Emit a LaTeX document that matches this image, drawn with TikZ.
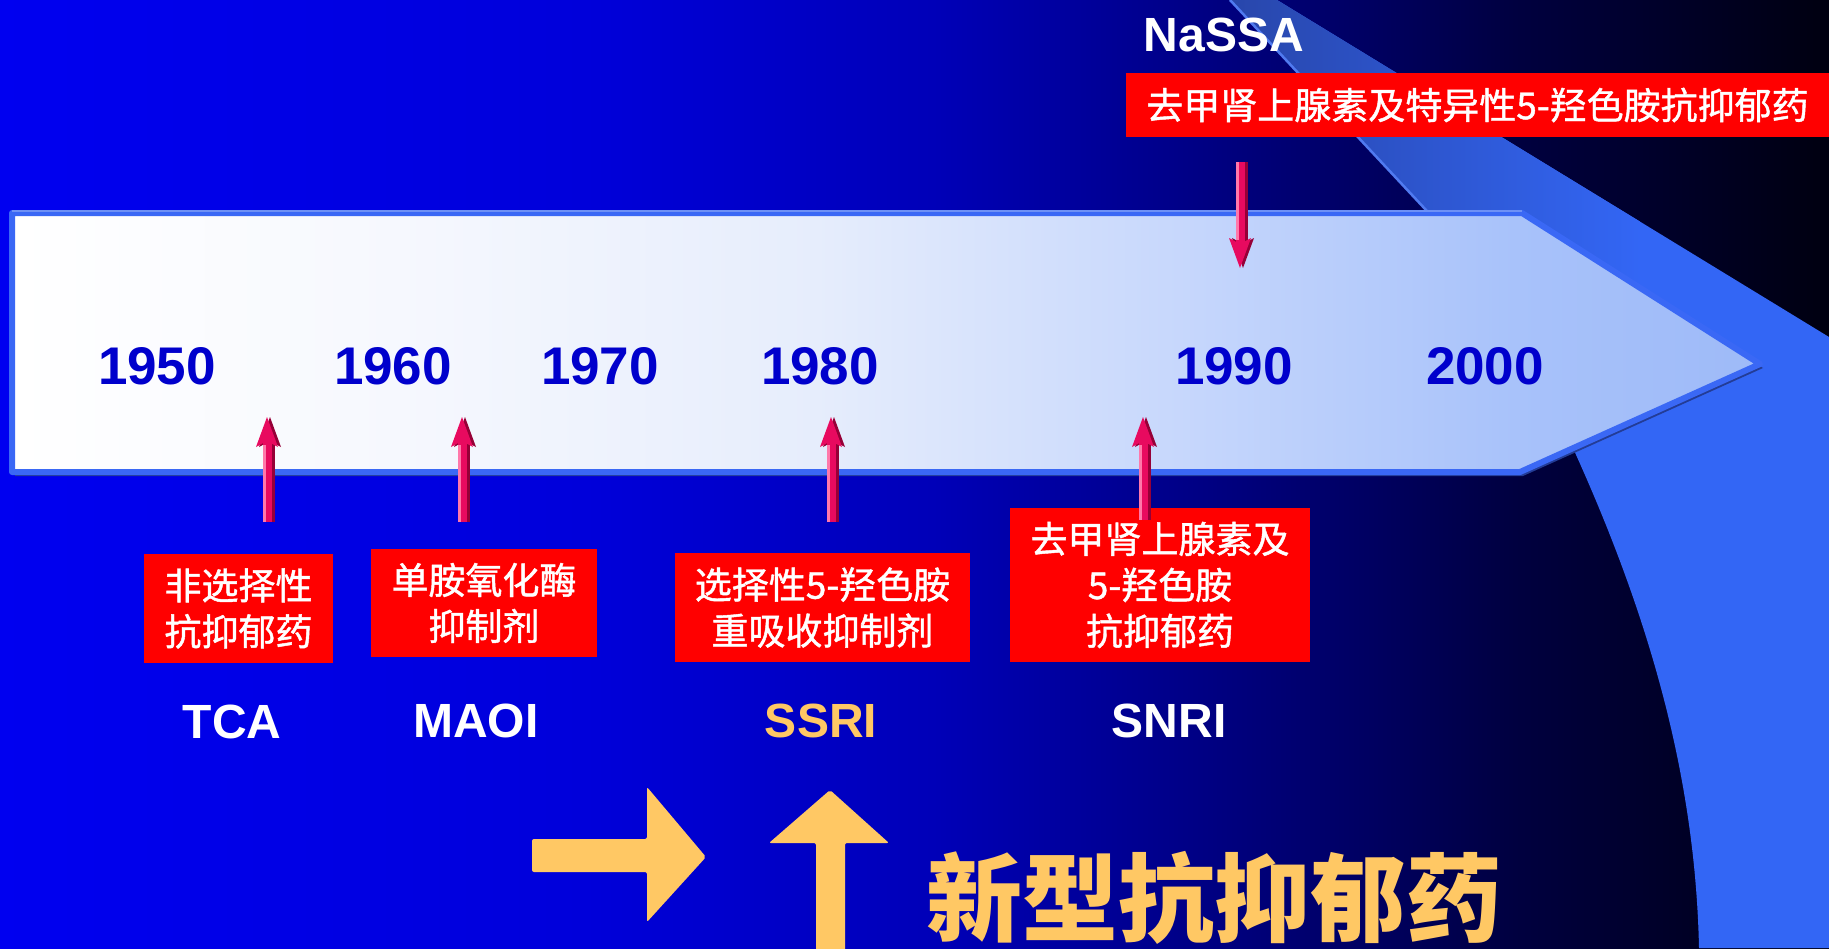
\documentclass[tikz,border=0pt]{standalone}
\usepackage{fontspec}
\setmainfont{Liberation Sans}
\newfontfamily\cjk{Noto Sans CJK SC}
\newfontfamily\cjkb[FakeBold=1.2]{Noto Sans CJK SC}
\usetikzlibrary{arrows.meta}
\definecolor{bgA}{RGB}{0,0,240}
\definecolor{bgB}{RGB}{0,0,218}
\definecolor{bgC}{RGB}{0,0,184}
\definecolor{bgD}{RGB}{0,0,138}
\definecolor{bgE}{RGB}{0,0,96}
\definecolor{bgF}{RGB}{0,0,64}
\definecolor{bgG}{RGB}{0,0,16}
\definecolor{tlA}{RGB}{255,255,255}
\definecolor{tlB}{RGB}{246,248,254}
\definecolor{tlC}{RGB}{230,237,252}
\definecolor{tlD}{RGB}{200,216,252}
\definecolor{tlE}{RGB}{168,194,250}
\definecolor{tlF}{RGB}{158,186,248}
\definecolor{swB}{RGB}{51,102,245}
\definecolor{swD}{RGB}{40,70,170}
\definecolor{swL}{RGB}{80,122,240}
\definecolor{yearblue}{RGB}{0,0,204}
\definecolor{labyel}{RGB}{255,200,100}
\definecolor{boxred}{RGB}{255,0,0}
\definecolor{arrowred}{RGB}{232,10,95}
\definecolor{arrowdark}{RGB}{150,0,55}
\definecolor{arrowhl}{RGB}{255,120,170}
\definecolor{tlborder}{RGB}{58,104,245}
\definecolor{tltop}{RGB}{110,145,245}
\definecolor{tlshadow}{RGB}{35,60,150}
\pgfdeclarehorizontalshading{bgshade}{100bp}{color(0bp)=(bgA); color(25bp)=(bgA); color(41bp)=(bgB); color(50.5bp)=(bgC); color(57bp)=(bgD); color(62.6bp)=(bgE); color(66.4bp)=(bgF); color(75bp)=(bgG); color(100bp)=(bgG)}
\pgfdeclarehorizontalshading{tlshade}{100bp}{color(0bp)=(tlA); color(25bp)=(tlA); color(36bp)=(tlB); color(48bp)=(tlC); color(58bp)=(tlD); color(68bp)=(tlE); color(75bp)=(tlF); color(100bp)=(tlF)}
\tikzset{
  year/.style={font=\fontsize{53}{53}\selectfont\bfseries, text=yearblue, inner sep=0pt},
  lab/.style={font=\fontsize{48}{48}\selectfont\bfseries, text=white, inner sep=0pt},
  redbox/.style={fill=boxred, text=white, inner sep=0pt, align=center, font=\cjkb\fontsize{37}{46}\selectfont},
  redarr/.style={draw=arrowred, line width=9pt, -{Stealth[width=22pt,length=30pt,inset=6pt,line width=0pt]}},
  redshadow/.style={draw=arrowdark, line width=9pt, -{Stealth[width=22pt,length=30pt,inset=6pt,line width=0pt]}},
  redhl/.style={draw=arrowhl, line width=3pt},
  yel/.style={fill=labyel, rounded corners=2pt},
  bigtxt/.style={font=\cjk\fontsize{96}{96}\selectfont\bfseries, text=labyel, inner sep=0pt}
}
\begin{document}
\begin{tikzpicture}[x=1pt,y=-1pt]
\useasboundingbox (0,0) rectangle (1829,948);
% background
\shade[shading=bgshade] (0,0) rectangle (1829,948);
% swoosh
\fill[swB] (1230,0) -- (1440,225) -- (1560,420) .. controls (1640,590) and (1695,760) .. (1699,948) -- (1829,948) -- (1829,337) -- (1277,0) -- cycle;
\begin{scope}
  \clip (1230,0) -- (1440,225) -- (1560,420) .. controls (1640,590) and (1695,760) .. (1699,948) -- (1829,948) -- (1829,337) -- (1277,0) -- cycle;
  \shade[left color=swD, right color=swB] (1225,0) rectangle (1640,400);
\end{scope}
\draw[swL, line width=2.5pt] (1230,0) -- (1440,225);
% timeline arrow
\fill[tlshadow, shift={(3,4)}] (12,213) -- (1522,213) -- (1760,364) -- (1520,472) -- (12,472) -- cycle;
\shadedraw[shading=tlshade, draw=tlborder, line width=6pt, line join=round] (12,213) -- (1522,213) -- (1760,364) -- (1520,472) -- (12,472) -- cycle;
\draw[tltop, line width=2.5pt] (12,211) -- (1522,211);
% years
\node[year] (y1950) at (157,366) {1950};
\node[year] (y1960) at (393,366) {1960};
\node[year] (y1970) at (600,366) {1970};
\node[year] (y1980) at (820,366) {1980};
\node[year] (y1990) at (1234,366) {1990};
\node[year] (y2000) at (1485,366) {2000};
% red boxes
\node[redbox, minimum width=189pt, minimum height=109pt] (tcabox) at (238.5,608.5) {非选择性\\抗抑郁药};
\node[redbox, minimum width=226pt, minimum height=108pt] (maoibox) at (484,603) {单胺氧化酶\\抑制剂};
\node[redbox, minimum width=295pt, minimum height=109pt] (ssribox) at (822.5,607.5) {选择性5-羟色胺\\重吸收抑制剂};
\node[redbox, minimum width=300pt, minimum height=154pt] (snribox) at (1160,585) {去甲肾上腺素及\\5-羟色胺\\抗抑郁药};
\node[redbox, minimum width=703pt, minimum height=64pt, font=\cjkb\fontsize{37}{37}\selectfont] (banner) at (1477.5,105) {去甲肾上腺素及特异性5-羟色胺抗抑郁药};
% arrow end points
\coordinate (a1s) at (267,522); \coordinate (a1e) at (267,417);
\coordinate (a2s) at (462,522); \coordinate (a2e) at (462,417);
\coordinate (a3s) at (831,522); \coordinate (a3e) at (831,417);
\coordinate (a4s) at (1143,520); \coordinate (a4e) at (1143,417);
\coordinate (a5s) at (1240,162); \coordinate (a5e) at (1240,268);
\foreach \s/\e in {a1s/a1e,a2s/a2e,a3s/a3e,a4s/a4e} {
  \draw[redshadow] ([xshift=3pt]\s) -- ([xshift=3pt]\e);
  \draw[redarr] (\s) -- (\e);
  \draw[redhl] ([xshift=-2.5pt]\s) -- ([xshift=-2.5pt,yshift=-28pt]\e);
}
\draw[redshadow] ([xshift=3pt]a5s) -- ([xshift=3pt]a5e);
\draw[redarr] (a5s) -- (a5e);
\draw[redhl] ([xshift=-2.5pt]a5s) -- ([xshift=-2.5pt,yshift=28pt]a5e);
% labels
\node[lab] (tca) at (232,722) {TCA};
\node[lab] (maoi) at (476,721) {MAOI};
\node[lab, text=labyel] (ssri) at (821,721) {SSRI};
\node[lab] (snri) at (1169,721) {SNRI};
\node[lab] (nassa) at (1224,35) {NaSSA};
% yellow arrows
\fill[yel] (532,839) -- (647,839) -- (647,787) -- (706,857) -- (647,922) -- (647,872) -- (532,872) -- cycle;
\fill[yel] (816,965) -- (816,843) -- (769,843) -- (830,790) -- (889,843) -- (845,843) -- (845,965) -- cycle;
\node[bigtxt] (newad) at (1214,898) {新型抗抑郁药};
\end{tikzpicture}
\end{document}
